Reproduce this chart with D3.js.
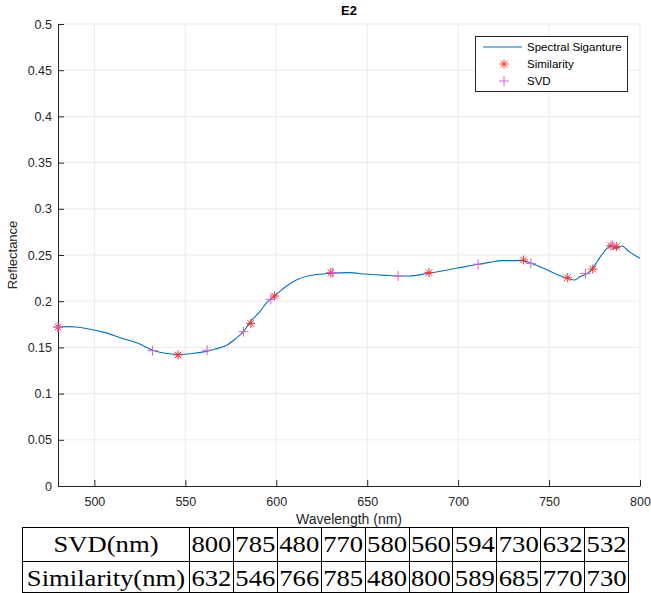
<!DOCTYPE html>
<html>
<head>
<meta charset="utf-8">
<script src="https://cdn.jsdelivr.net/npm/d3@7"></script>
<style>
  body { margin: 0; background: #fff; }
  svg { display: block; }
</style>
</head>
<body>
<div id="chart"></div>
<script>
// spectral signature
const wavelength = [480, 485, 490, 497, 506, 515, 524, 532, 539, 546, 553, 561, 566, 573, 578, 582, 585, 591, 595, 599, 604, 611, 618, 629, 640, 649, 660, 668, 673, 683, 699, 711, 717, 724, 732, 735, 740, 745, 750, 755, 760, 764, 767, 771, 774, 777, 781, 784, 787, 790, 794, 800];
const reflectance = [0.172, 0.1725, 0.172, 0.170, 0.166, 0.160, 0.1544, 0.147, 0.1436, 0.1425, 0.1432, 0.1454, 0.148, 0.1526, 0.160, 0.167, 0.176, 0.1887, 0.199, 0.2055, 0.214, 0.223, 0.2276, 0.230, 0.2309, 0.2294, 0.228, 0.2273, 0.2273, 0.230, 0.2356, 0.240, 0.242, 0.2439, 0.2439, 0.2439, 0.241, 0.2374, 0.233, 0.2284, 0.2248, 0.223, 0.2265, 0.230, 0.2356, 0.2446, 0.2554, 0.260, 0.2572, 0.2597, 0.2536, 0.2464];

// selected bands
const simWl = [480, 546, 586, 599, 630, 684, 736, 760, 774, 784, 787];
const simVal = [0.172, 0.1418, 0.176, 0.2056, 0.2309, 0.2309, 0.2446, 0.2254, 0.2348, 0.260, 0.259];
const svdWl = [480, 532, 562, 582, 597, 631, 667, 711, 740, 770, 785];
const svdVal = [0.172, 0.1465, 0.147, 0.167, 0.202, 0.231, 0.2273, 0.240, 0.241, 0.230, 0.2608];

const xTicks = [500, 550, 600, 650, 700, 750, 800];
const yTicks = [0, 0.05, 0.1, 0.15, 0.2, 0.25, 0.3, 0.35, 0.4, 0.45, 0.5];

// table under the plot
const tableRowNames = ["SVD(nm)", "Similarity(nm)"];
const tableSvd = [800, 785, 480, 770, 580, 560, 594, 730, 632, 532];
const tableSim = [632, 546, 766, 785, 480, 800, 589, 685, 770, 730];

const width = 651, height = 593;
const mLeft = 58, mRight = 640, mTop = 24, mBottom = 486;

const svg = d3.select("#chart").append("svg")
  .attr("width", width).attr("height", height)
  .style("font-family", "'Liberation Sans', Arial, sans-serif");

const x = d3.scaleLinear().domain([480, 800]).range([mLeft, mRight]);
const y = d3.scaleLinear().domain([0, 0.5]).range([mBottom, mTop]);

// grid
svg.append("g").selectAll("line").data(xTicks).join("line")
  .attr("x1", d => x(d)).attr("x2", d => x(d))
  .attr("y1", mTop).attr("y2", mBottom)
  .attr("stroke", "#ebebeb").attr("stroke-width", 1);
svg.append("g").selectAll("line").data(yTicks.filter(d => d > 0)).join("line")
  .attr("x1", mLeft).attr("x2", mRight)
  .attr("y1", d => y(d)).attr("y2", d => y(d))
  .attr("stroke", "#ebebeb").attr("stroke-width", 1);

// axes, ticks pointing inward
const xAxis = svg.append("g").attr("transform", `translate(0,${mBottom})`)
  .call(d3.axisBottom(x).tickValues(xTicks).tickSizeInner(-6).tickSizeOuter(0).tickPadding(11));
const yAxis = svg.append("g").attr("transform", `translate(${mLeft},0)`)
  .call(d3.axisLeft(y).tickValues(yTicks).tickSizeInner(-6).tickSizeOuter(0).tickPadding(6)
    .tickFormat(d => String(+d.toFixed(2))));
[xAxis, yAxis].forEach(a => {
  a.select(".domain").attr("stroke", "#262626");
  a.selectAll(".tick line").attr("stroke", "#262626");
  a.selectAll("text").attr("fill", "#262626")
    .style("font-family", "'Liberation Sans', Arial, sans-serif").style("font-size", "12.5px");
});

// curve
const pts = wavelength.map((w, i) => [w, reflectance[i]]);
svg.append("path").datum(pts)
  .attr("fill", "none").attr("stroke", "#0072BD").attr("stroke-width", 1.1)
  .attr("d", d3.line().x(d => x(d[0])).y(d => y(d[1])).curve(d3.curveMonotoneX));

function star(g, cx, cy, r, color) {
  const s = g.append("g").attr("transform", `translate(${cx},${cy})`)
    .attr("stroke", color).attr("stroke-width", 1);
  const k = r * 0.72;
  s.append("line").attr("x1", -r).attr("x2", r).attr("y1", 0).attr("y2", 0);
  s.append("line").attr("x1", 0).attr("x2", 0).attr("y1", -r).attr("y2", r);
  s.append("line").attr("x1", -k).attr("x2", k).attr("y1", -k).attr("y2", k);
  s.append("line").attr("x1", -k).attr("x2", k).attr("y1", k).attr("y2", -k);
}
function plus(g, cx, cy, r, color) {
  const s = g.append("g").attr("transform", `translate(${cx},${cy})`)
    .attr("stroke", color).attr("stroke-width", 1);
  s.append("line").attr("x1", -r).attr("x2", r).attr("y1", 0).attr("y2", 0);
  s.append("line").attr("x1", 0).attr("x2", 0).attr("y1", -r).attr("y2", r);
}

const marks = svg.append("g");
simWl.forEach((w, i) => star(marks, x(w), y(simVal[i]), 4.5, "#ff2a2a"));
svdWl.forEach((w, i) => plus(marks, x(w), y(svdVal[i]), 5, "#d35fd3"));

// titles
svg.append("text").attr("x", (mLeft + mRight) / 2).attr("y", 15)
  .attr("text-anchor", "middle").style("font-size", "13px").style("font-weight", "bold")
  .attr("fill", "#000").text("E2");
svg.append("text").attr("x", (mLeft + mRight) / 2).attr("y", 524)
  .attr("text-anchor", "middle").style("font-size", "14px").attr("fill", "#262626")
  .text("Wavelength (nm)");
svg.append("text").attr("transform", `translate(17,${(mTop + mBottom) / 2}) rotate(-90)`)
  .attr("text-anchor", "middle").style("font-size", "13px").attr("fill", "#262626")
  .text("Reflectance");

// legend
const leg = svg.append("g");
leg.append("rect").attr("x", 475.5).attr("y", 36.5).attr("width", 152).attr("height", 55)
  .attr("fill", "#fff").attr("stroke", "#262626").attr("stroke-width", 1);
leg.append("line").attr("x1", 483).attr("x2", 522).attr("y1", 47).attr("y2", 47)
  .attr("stroke", "#0072BD").attr("stroke-width", 1.1);
star(leg, 504, 64, 4.5, "#ff2a2a");
plus(leg, 504, 81, 5, "#d35fd3");
["Spectral Siganture", "Similarity", "SVD"].forEach((t, i) => {
  leg.append("text").attr("x", 527).attr("y", 51 + i * 17)
    .style("font-size", "11.5px").attr("fill", "#000").text(t);
});

// table
const tx0 = 22, tFirst = 189, colW = 43.9, ty = [527, 561, 592];
const stretch = 1.11;
const tbl = svg.append("g").style("font-family", "'Liberation Serif', 'Times New Roman', serif");
const tRight = tFirst + colW * tableSvd.length;
ty.forEach(v => tbl.append("line").attr("x1", tx0).attr("x2", tRight)
  .attr("y1", v + 0.5).attr("y2", v + 0.5).attr("stroke", "#000"));
const colEdges = [tx0, ...d3.range(tableSvd.length + 1).map(i => tFirst + i * colW)];
colEdges.forEach(v => tbl.append("line").attr("x1", Math.round(v) + 0.5).attr("x2", Math.round(v) + 0.5)
  .attr("y1", ty[0]).attr("y2", ty[2] + 1).attr("stroke", "#000"));
function cell(cx, base, txt) {
  const t = tbl.append("text").attr("x", cx).attr("y", base)
    .attr("text-anchor", "middle").style("font-size", "24px").attr("fill", "#000")
    .text(txt);
  const w = t.node().getComputedTextLength();
  t.attr("textLength", w * stretch).attr("lengthAdjust", "spacingAndGlyphs");
}
[tableSvd, tableSim].forEach((row, r) => {
  const base = ty[r] + 25;
  cell((tx0 + tFirst) / 2 + 0.5, base, tableRowNames[r]);
  row.forEach((v, i) => cell(tFirst + i * colW + colW / 2 + 0.5, base, v));
});
</script>
</body>
</html>
